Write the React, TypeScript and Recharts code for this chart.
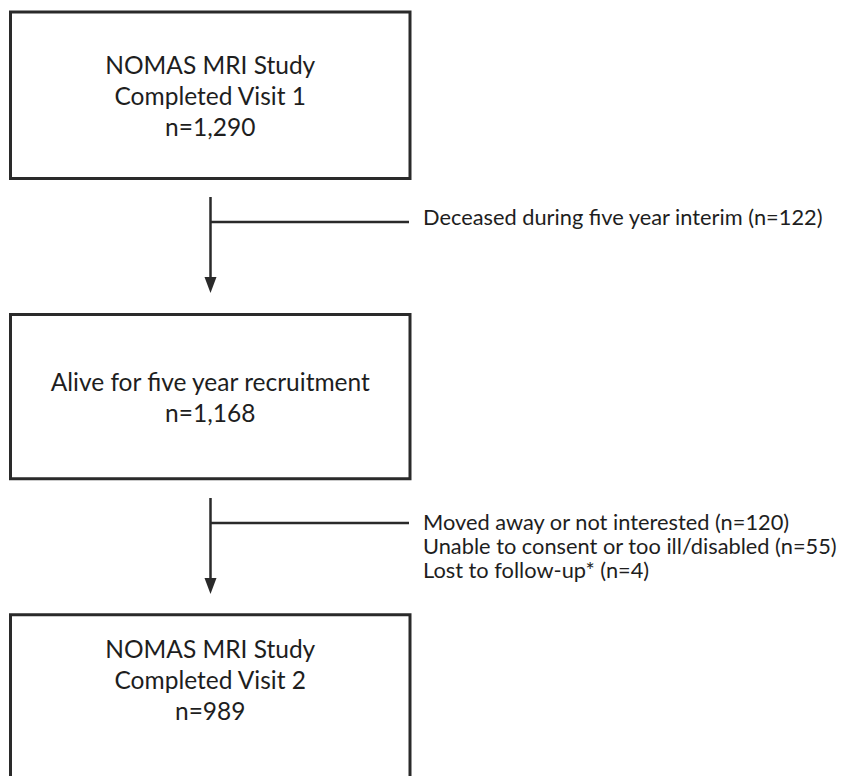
import React from 'react';
import { ComposedChart, XAxis, YAxis, ReferenceArea, ReferenceLine, ReferenceDot } from 'recharts';

// ---- Data ----
const stageTitles: string[][] = [
  ['NOMAS MRI Study', 'Completed Visit 1'],
  ['Alive for five year recruitment'],
  ['NOMAS MRI Study', 'Completed Visit 2'],
];
const stageCounts: number[] = [1290, 1168, 989];
const exclusionReasons: string[][] = [
  ['Deceased during five year interim'],
  ['Moved away or not interested', 'Unable to consent or too ill/disabled', 'Lost to follow-up*'],
];
const exclusionCounts: number[][] = [[122], [120, 55, 4]];

// ---- Layout (pixel-space coordinates via identity scales) ----
const W = 845;
const H = 776;
const BOX_LEFT = 10.5;
const BOX_RIGHT = 410;
const boxTops = [12, 314.5, 614.7];
const boxBottoms = [178.5, 478.7, 800];
const boxFirstBaseline = [74, 391, 658];
const BOX_LINE_GAP = 31;
const ARROW_X = 210.5;
const arrowStarts = [197, 498];
const arrowTips = [293, 594];
const branchYs = [222, 523];
const BRANCH_END = 409;
const SIDE_X = 423;
const sideFirstBaseline = [225, 530];
const SIDE_LINE_GAP = 24;

const FONT = 'Lato, "Open Sans", sans-serif';
const TEXT_COLOR = '#1e1e1e';
const LINE_COLOR = '#2a2a2a';
const BOX_FONT = 24.5;
const SIDE_FONT = 21.8;

const fmt = (n: number) => n.toLocaleString('en-US');

const TextShape = (text: string, size: number, anchor: 'middle' | 'start') => (props: any) => (
  <text
    x={props.cx}
    y={props.cy}
    textAnchor={anchor}
    fontFamily={FONT}
    fontSize={size}
    fill={TEXT_COLOR}
  >
    {text}
  </text>
);

const ArrowHead = (props: any) => {
  const { cx, cy } = props;
  return <polygon points={`${cx - 6},${cy - 16} ${cx + 6},${cy - 16} ${cx},${cy}`} fill={LINE_COLOR} />;
};

export default function App() {
  const boxCenterX = (BOX_LEFT + BOX_RIGHT) / 2;
  return (
    <div style={{ position: 'absolute', left: 0, top: 0, width: W, height: H, background: '#fff' }}>
      <ComposedChart width={W} height={H} margin={{ top: 0, right: 0, bottom: 0, left: 0 }} data={[]}>
        <XAxis type="number" dataKey="x" domain={[0, W]} hide allowDataOverflow />
        <YAxis type="number" dataKey="y" domain={[0, H]} reversed hide allowDataOverflow width={0} />

        {stageTitles.map((_, i) => (
          <ReferenceArea
            key={`box-${i}`}
            x1={BOX_LEFT}
            x2={BOX_RIGHT}
            y1={boxTops[i]}
            y2={boxBottoms[i]}
            fill="#fff"
            fillOpacity={0}
            stroke={LINE_COLOR}
            strokeWidth={3}
            ifOverflow="visible"
          />
        ))}

        {stageTitles.map((lines, i) =>
          [...lines, `n=${fmt(stageCounts[i])}`].map((line, j) => (
            <ReferenceDot
              key={`bt-${i}-${j}`}
              x={boxCenterX}
              y={boxFirstBaseline[i] + j * BOX_LINE_GAP}
              r={0}
              ifOverflow="visible"
              shape={TextShape(line, BOX_FONT, 'middle')}
            />
          ))
        )}

        {exclusionReasons.map((_, i) => (
          <ReferenceLine
            key={`v-${i}`}
            segment={[
              { x: ARROW_X, y: arrowStarts[i] },
              { x: ARROW_X, y: arrowTips[i] - 12 },
            ]}
            stroke={LINE_COLOR}
            strokeWidth={2.5}
            ifOverflow="visible"
          />
        ))}
        {exclusionReasons.map((_, i) => (
          <ReferenceLine
            key={`h-${i}`}
            segment={[
              { x: ARROW_X, y: branchYs[i] },
              { x: BRANCH_END, y: branchYs[i] },
            ]}
            stroke={LINE_COLOR}
            strokeWidth={2.5}
            ifOverflow="visible"
          />
        ))}
        {exclusionReasons.map((_, i) => (
          <ReferenceDot
            key={`a-${i}`}
            x={ARROW_X}
            y={arrowTips[i]}
            r={0}
            ifOverflow="visible"
            shape={ArrowHead}
          />
        ))}

        {exclusionReasons.map((reasons, i) =>
          reasons.map((reason, j) => (
            <ReferenceDot
              key={`st-${i}-${j}`}
              x={SIDE_X}
              y={sideFirstBaseline[i] + j * SIDE_LINE_GAP}
              r={0}
              ifOverflow="visible"
              shape={TextShape(`${reason} (n=${exclusionCounts[i][j]})`, SIDE_FONT, 'start')}
            />
          ))
        )}
      </ComposedChart>
    </div>
  );
}
